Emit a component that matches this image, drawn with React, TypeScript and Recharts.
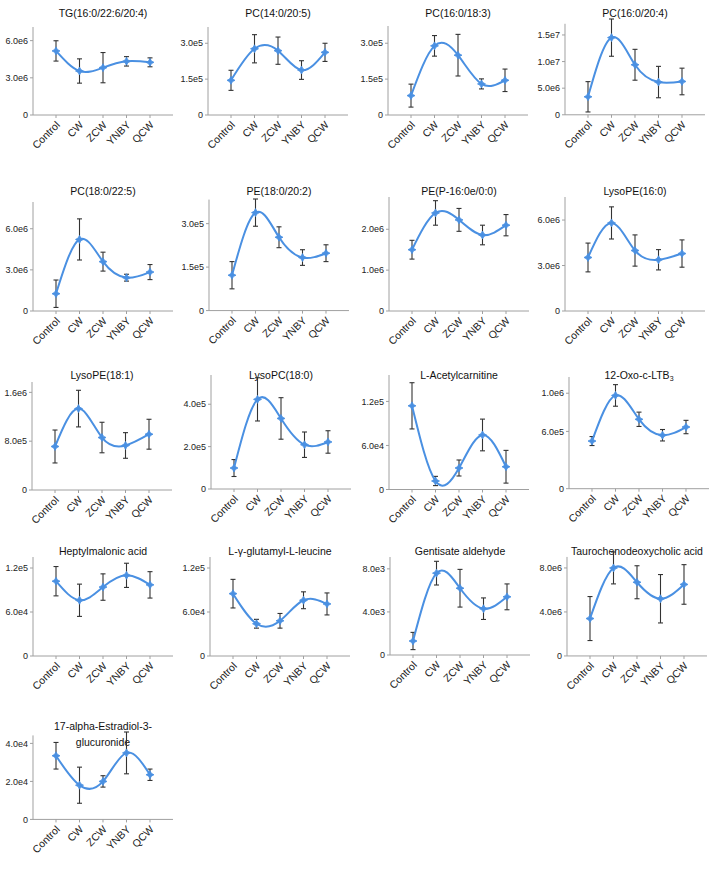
import React from 'react';
import { LineChart, Line, XAxis, YAxis, ErrorBar } from 'recharts';

// ---------- data ----------
const groups = ['Control', 'CW', 'ZCW', 'YNBY', 'QCW'];

const tgMean = [5.17e6, 3.55e6, 3.82e6, 4.33e6, 4.25e6];
const tgErr = [0.82e6, 0.98e6, 1.22e6, 0.38e6, 0.36e6];
const tgTicks = [0, 3e6, 6e6];

const pc1420Mean = [1.45e5, 2.77e5, 2.69e5, 1.88e5, 2.62e5];
const pc1420Err = [0.42e5, 0.59e5, 0.57e5, 0.39e5, 0.38e5];
const pc1420Ticks = [0, 1.5e5, 3e5];

const pc1618Mean = [0.81e5, 2.89e5, 2.5e5, 1.3e5, 1.45e5];
const pc1618Err = [0.48e5, 0.43e5, 0.87e5, 0.21e5, 0.47e5];
const pc1618Ticks = [0, 1.5e5, 3e5];

const pc1620Mean = [3.38e6, 14.5e6, 9.4e6, 6.15e6, 6.26e6];
const pc1620Err = [2.85e6, 3.5e6, 2.9e6, 2.95e6, 2.5e6];
const pc1620Ticks = [0, 5e6, 1e7, 1.5e7];

const pc1822Mean = [1.26e6, 5.22e6, 3.6e6, 2.43e6, 2.84e6];
const pc1822Err = [1.0e6, 1.5e6, 0.69e6, 0.25e6, 0.55e6];
const pc1822Ticks = [0, 3e6, 6e6];

const pe1820Mean = [1.22e5, 3.38e5, 2.53e5, 1.83e5, 1.98e5];
const pe1820Err = [0.47e5, 0.47e5, 0.36e5, 0.27e5, 0.29e5];
const pe1820Ticks = [0, 1.5e5, 3e5];

const pePMean = [1.5e6, 2.4e6, 2.23e6, 1.86e6, 2.1e6];
const pePErr = [0.23e6, 0.3e6, 0.28e6, 0.24e6, 0.26e6];
const pePTicks = [0, 1e6, 2e6];

const lysoPE160Mean = [3.53e6, 5.81e6, 3.99e6, 3.38e6, 3.79e6];
const lysoPE160Err = [0.95e6, 1.06e6, 1.03e6, 0.67e6, 0.9e6];
const lysoPE160Ticks = [0, 3e6, 6e6];

const lysoPE181Mean = [0.713e6, 1.334e6, 0.86e6, 0.73e6, 0.914e6];
const lysoPE181Err = [0.27e6, 0.3e6, 0.25e6, 0.21e6, 0.245e6];
const lysoPE181Ticks = [0, 8e5, 1.6e6];

const lysoPC180Mean = [0.99e5, 4.23e5, 3.33e5, 2.09e5, 2.22e5];
const lysoPC180Err = [0.4e5, 1.02e5, 0.98e5, 0.6e5, 0.53e5];
const lysoPC180Ticks = [0, 2e5, 4e5];

const acetylMean = [11.4e4, 1.16e4, 2.93e4, 7.43e4, 3.1e4];
const acetylErr = [3.15e4, 0.63e4, 1.09e4, 2.16e4, 2.23e4];
const acetylTicks = [0, 6e4, 1.2e5];

const oxoMean = [0.499e6, 0.977e6, 0.727e6, 0.56e6, 0.646e6];
const oxoErr = [0.047e6, 0.113e6, 0.075e6, 0.06e6, 0.07e6];
const oxoTicks = [0, 6e5, 1e6];

const heptMean = [10.2e4, 7.6e4, 9.4e4, 11.0e4, 9.7e4];
const heptErr = [2.0e4, 2.2e4, 1.8e4, 1.65e4, 1.8e4];
const heptTicks = [0, 6e4, 1.2e5];

const glutMean = [8.5e4, 4.4e4, 4.8e4, 7.6e4, 7.1e4];
const glutErr = [1.95e4, 0.6e4, 1.0e4, 1.15e4, 1.5e4];
const glutTicks = [0, 6e4, 1.2e5];

const gentMean = [1.3e3, 7.6e3, 6.2e3, 4.3e3, 5.4e3];
const gentErr = [0.8e3, 1.1e3, 1.75e3, 1.0e3, 1.2e3];
const gentTicks = [0, 4e3, 8e3];

const tauroMean = [3.4e6, 8.0e6, 6.7e6, 5.2e6, 6.5e6];
const tauroErr = [2.0e6, 1.45e6, 1.5e6, 2.2e6, 1.8e6];
const tauroTicks = [0, 4e6, 8e6];

const estrMean = [3.35e4, 1.8e4, 2.0e4, 3.5e4, 2.35e4];
const estrErr = [0.7e4, 0.95e4, 0.3e4, 1.1e4, 0.3e4];
const estrTicks = [0, 2e4, 4e4];

// ---------- styles ----------
const BLUE = '#4a90e2';
const AXIS = '#a0a0a0';
const TEXT = '#222';
const FONT = '"Liberation Sans", Arial, Helvetica, sans-serif';

type PanelDef = {
  title: React.ReactNode;
  mean: number[];
  err: number[];
  ticks: number[];
  // layout
  axisX: number;
  baseY: number;
  topY: number;
  yMax: number;
  titleY: number;
};

const panels: PanelDef[] = [
  { title: 'TG(16:0/22:6/20:4)', mean: tgMean, err: tgErr, ticks: tgTicks, axisX: 33, baseY: 115, topY: 27, yMax: 7.1e6, titleY: 12 },
  { title: 'PC(14:0/20:5)', mean: pc1420Mean, err: pc1420Err, ticks: pc1420Ticks, axisX: 208, baseY: 115, topY: 27, yMax: 3.68e5, titleY: 12 },
  { title: 'PC(16:0/18:3)', mean: pc1618Mean, err: pc1618Err, ticks: pc1618Ticks, axisX: 388, baseY: 115, topY: 26, yMax: 3.72e5, titleY: 12 },
  { title: 'PC(16:0/20:4)', mean: pc1620Mean, err: pc1620Err, ticks: pc1620Ticks, axisX: 565, baseY: 115, topY: 24, yMax: 1.71e7, titleY: 12 },

  { title: 'PC(18:0/22:5)', mean: pc1822Mean, err: pc1822Err, ticks: pc1822Ticks, axisX: 33, baseY: 311, topY: 202, yMax: 7.95e6, titleY: 190 },
  { title: 'PE(18:0/20:2)', mean: pe1820Mean, err: pe1820Err, ticks: pe1820Ticks, axisX: 209, baseY: 311, topY: 200, yMax: 3.83e5, titleY: 190 },
  { title: 'PE(P-16:0e/0:0)', mean: pePMean, err: pePErr, ticks: pePTicks, axisX: 389, baseY: 311, topY: 197, yMax: 2.79e6, titleY: 190 },
  { title: 'LysoPE(16:0)', mean: lysoPE160Mean, err: lysoPE160Err, ticks: lysoPE160Ticks, axisX: 565, baseY: 311, topY: 197, yMax: 7.52e6, titleY: 190 },

  { title: 'LysoPE(18:1)', mean: lysoPE181Mean, err: lysoPE181Err, ticks: lysoPE181Ticks, axisX: 32, baseY: 490, topY: 382, yMax: 1.77e6, titleY: 374 },
  { title: 'LysoPC(18:0)', mean: lysoPC180Mean, err: lysoPC180Err, ticks: lysoPC180Ticks, axisX: 211, baseY: 489, topY: 375, yMax: 5.38e5, titleY: 374 },
  { title: 'L-Acetylcarnitine', mean: acetylMean, err: acetylErr, ticks: acetylTicks, axisX: 389, baseY: 489.5, topY: 375, yMax: 1.56e5, titleY: 374 },
  { title: <span>12-Oxo-c-LTB<sub style={{ fontSize: 7, verticalAlign: -2 }}>3</sub></span>, mean: oxoMean, err: oxoErr, ticks: oxoTicks, axisX: 569, baseY: 488.7, topY: 377, yMax: 1.17e6, titleY: 374 },

  { title: 'Heptylmalonic acid', mean: heptMean, err: heptErr, ticks: heptTicks, axisX: 33, baseY: 656, topY: 557, yMax: 1.35e5, titleY: 550 },
  { title: 'L-γ-glutamyl-L-leucine', mean: glutMean, err: glutErr, ticks: glutTicks, axisX: 210, baseY: 656, topY: 557, yMax: 1.35e5, titleY: 550 },
  { title: 'Gentisate aldehyde', mean: gentMean, err: gentErr, ticks: gentTicks, axisX: 390, baseY: 655, topY: 557, yMax: 9.1e3, titleY: 550 },
  { title: 'Taurochenodeoxycholic acid', mean: tauroMean, err: tauroErr, ticks: tauroTicks, axisX: 567, baseY: 656, topY: 557, yMax: 9.0e6, titleY: 550 },

  { title: <span>17-alpha-Estradiol-3-<br />glucuronide</span>, mean: estrMean, err: estrErr, ticks: estrTicks, axisX: 33, baseY: 819, topY: 735, yMax: 4.42e4, titleY: 725 },
];

const fmt = (v: number) => (v === 0 ? '0' : v.toExponential(1).replace('+', ''));

const XTick = (props: any) => {
  const { x, y, payload } = props;
  return (
    <g transform={`translate(${x + 2},${y + 3})`}>
      <text x={0} y={0} dy="0.35em" textAnchor="end" transform="rotate(-45)" fontSize={10.5} fill={TEXT}>
        {payload.value}
      </text>
    </g>
  );
};

const renderDot = (props: any) => {
  const { cx, cy, index } = props;
  const r = 4;
  const s = 1.4;
  const d = `M${cx},${cy - r}L${cx + s},${cy - s}L${cx + r},${cy}L${cx + s},${cy + s}L${cx},${cy + r}L${cx - s},${cy + s}L${cx - r},${cy}L${cx - s},${cy - s}Z`;
  return <path key={`dot-${index}`} d={d} fill={BLUE} stroke={BLUE} strokeWidth={0.8} />;
};

const PLOT_W = 140;
const YW = 40;
const MT = 2;
const XH = 50;

function Panel({ p }: { p: PanelDef }) {
  const plotH = p.baseY - p.topY;
  const pxPer = plotH / p.yMax;
  const errTop = Math.max(...p.mean.map((m, i) => m + p.err[i]));
  const errTopPx = p.baseY - errTop * pxPer;
  const topExt = Math.min(p.topY, errTopPx - 1);
  const domMax = (p.baseY - topExt) / pxPer;
  const gap = p.topY - topExt;
  const W = YW + PLOT_W + 4;
  const H = MT + (p.baseY - topExt) + XH;
  const data = groups.map((g, i) => ({ name: g, value: p.mean[i], err: p.err[i] }));
  return (
    <>
      <div
        style={{
          position: 'absolute',
          left: p.axisX + PLOT_W / 2 - 100,
          width: 200,
          top: p.titleY - 7,
          textAlign: 'center',
          fontSize: 10.5,
          lineHeight: '16px',
          color: '#111',
        }}
      >
        {p.title}
      </div>
      <div style={{ position: 'absolute', left: p.axisX - YW, top: topExt - MT, width: W, height: H }}>
        <LineChart width={W} height={H} data={data} margin={{ top: MT, right: 4, bottom: 0, left: 0 }}>
          <XAxis
            dataKey="name"
            type="category"
            scale="point"
            padding={{ left: 23, right: 23 }}
            interval={0}
            height={XH}
            tickSize={3}
            axisLine={{ stroke: AXIS }}
            tickLine={{ stroke: AXIS }}
            tick={(tp: any) => <XTick {...tp} />}
          />
          <YAxis
            type="number"
            domain={[0, domMax]}
            ticks={p.ticks}
            interval={0}
            width={YW}
            tickSize={3}
            tickMargin={2}
            axisLine={{ stroke: AXIS, strokeDasharray: `0 ${gap} 3000` }}
            tickLine={{ stroke: AXIS }}
            tick={{ fontSize: 9, fill: TEXT }}
            tickFormatter={fmt}
          />
          <Line
            type="natural"
            dataKey="value"
            stroke={BLUE}
            strokeWidth={2}
            dot={renderDot}
            activeDot={false}
            isAnimationActive={false}
          >
            <ErrorBar dataKey="err" width={2.5} stroke="#333" strokeWidth={1.1} direction="y" />
          </Line>
        </LineChart>
      </div>
    </>
  );
}

export default function App() {
  return (
    <div
      style={{
        position: 'absolute',
        left: 0,
        top: 0,
        width: 709,
        height: 873,
        background: '#fff',
        fontFamily: FONT,
        overflow: 'hidden',
      }}
    >
      {panels.map((p, i) => (
        <Panel key={i} p={p} />
      ))}
    </div>
  );
}
